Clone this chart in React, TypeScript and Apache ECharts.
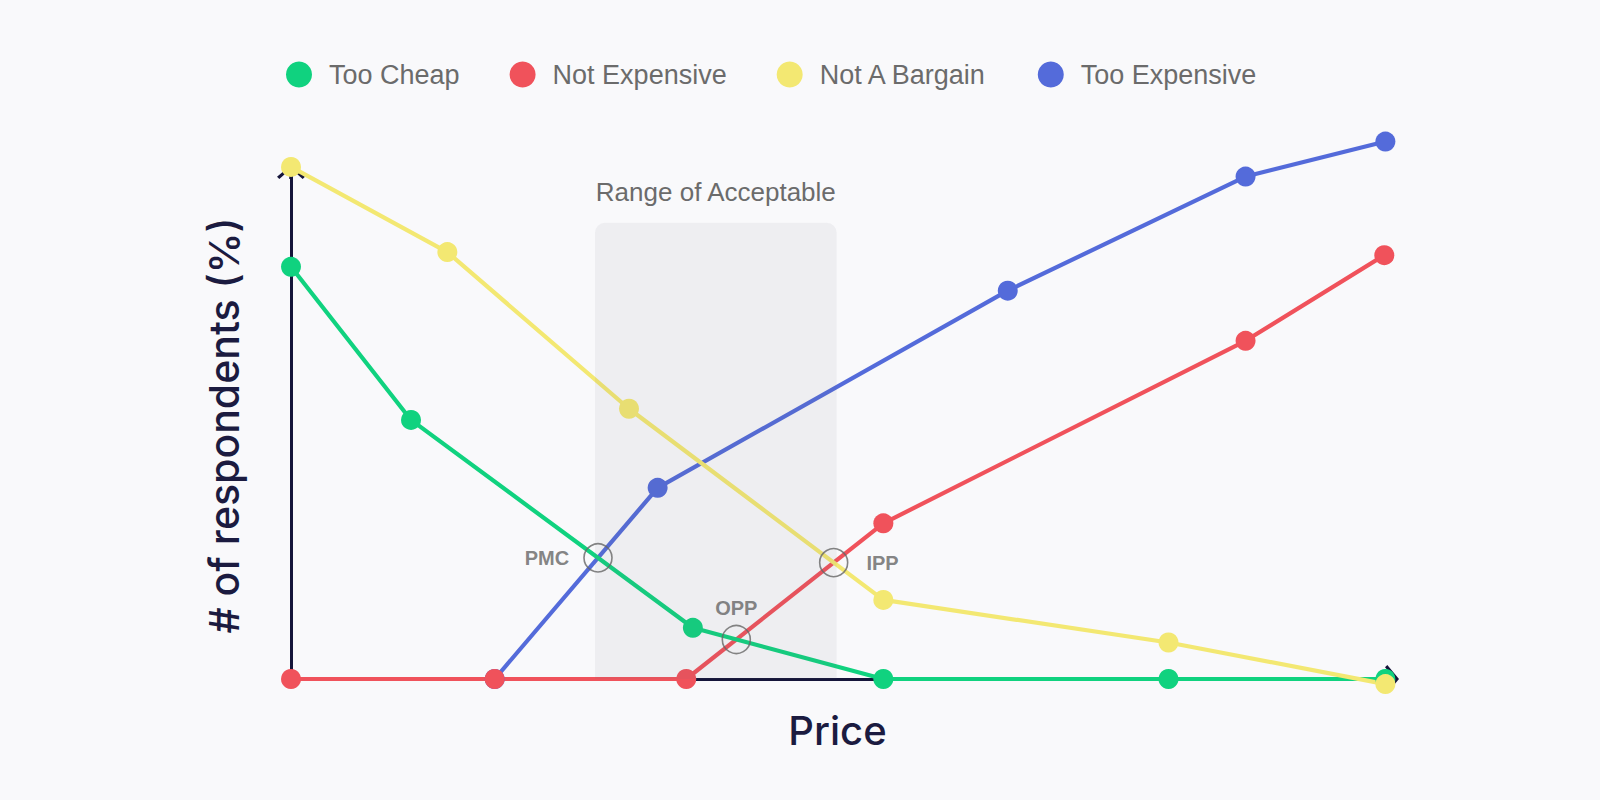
import React, { useEffect, useRef } from "react";
import * as echarts from "echarts";

// ---- data ----
const seriesNames = ["Too Cheap", "Not Expensive", "Not A Bargain", "Too Expensive"];
const seriesColors = ["#10D27F", "#F0525B", "#F3E872", "#546BDA"];

const tooCheapX = [0, 10.9, 36.5, 53.8, 79.7, 99.4];
const tooCheapY = [81.3, 51.1, 10.1, 0, 0, 0];

const notExpensiveX = [0, 18.5, 35.9, 53.8, 86.7, 99.3];
const notExpensiveY = [0, 0, 0, 30.7, 66.7, 83.6];

const notBargainX = [0, 14.2, 30.7, 53.8, 79.7, 99.4];
const notBargainY = [101, 84.2, 53.3, 15.6, 7.2, -1];

const tooExpensiveX = [18.5, 33.3, 65.1, 86.7, 99.4];
const tooExpensiveY = [0, 37.7, 76.6, 99.1, 106];

const pointLabels = ["PMC", "OPP", "IPP"];
const rangeLabel = "Range of Acceptable";
const rangeTop = 90;
const xAxisName = "Price";
const yAxisName = "# of respondents (%)";

const FONT = '"Liberation Sans", Arial, Helvetica, sans-serif';
const NAME_FONT = 'Inter, "Liberation Sans", Arial, sans-serif';
const AXIS_COLOR = "#15153A";
const CHEVRON =
  "path://M0,0 L12,10 L10,12 L1.5,4.5 L1.5,12 L-1.5,12 L-1.5,4.5 L-10,12 L-12,10 Z";

function interp(xs: number[], ys: number[], x: number): number {
  for (let i = 0; i < xs.length - 1; i++) {
    if (x >= xs[i] && x <= xs[i + 1]) {
      const t = (x - xs[i]) / (xs[i + 1] - xs[i]);
      return ys[i] + t * (ys[i + 1] - ys[i]);
    }
  }
  return NaN;
}

// first crossing of two polylines (both linear between union breakpoints)
function intersect(ax: number[], ay: number[], bx: number[], by: number[]): [number, number] {
  const lo = Math.max(ax[0], bx[0]);
  const hi = Math.min(ax[ax.length - 1], bx[bx.length - 1]);
  const xs = Array.from(new Set([...ax, ...bx]))
    .filter((x) => x >= lo && x <= hi)
    .sort((p, q) => p - q);
  for (let i = 0; i < xs.length - 1; i++) {
    const d0 = interp(ax, ay, xs[i]) - interp(bx, by, xs[i]);
    const d1 = interp(ax, ay, xs[i + 1]) - interp(bx, by, xs[i + 1]);
    if (d0 !== 0 && d0 * d1 < 0) {
      const t = d0 / (d0 - d1);
      const x = xs[i] + t * (xs[i + 1] - xs[i]);
      return [x, interp(ax, ay, x)];
    }
  }
  return [NaN, NaN];
}

function zip(xs: number[], ys: number[]) {
  return xs.map((x, i) => [x, ys[i]]);
}

export default function App() {
  const ref = useRef<HTMLDivElement>(null);

  useEffect(() => {
    document.body.style.margin = "0";
    document.body.style.background = "#F9F9FB";
    if (!ref.current) return;
    const chart = echarts.init(ref.current, undefined, { renderer: "svg" });

    const pmc = intersect(tooCheapX, tooCheapY, tooExpensiveX, tooExpensiveY);
    const opp = intersect(tooCheapX, tooCheapY, notExpensiveX, notExpensiveY);
    const ipp = intersect(notBargainX, notBargainY, notExpensiveX, notExpensiveY);

    const lineSeries = (idx: number, xs: number[], ys: number[]) => ({
      type: "line",
      name: seriesNames[idx],
      data: zip(xs, ys),
      symbol: "circle",
      symbolSize: 20,
      showSymbol: true,
      clip: false,
      z: 2,
      lineStyle: { color: seriesColors[idx], width: 4.2 },
      itemStyle: { color: seriesColors[idx], borderWidth: 0 },
      emphasis: { disabled: true },
    });

    const axisLine = {
      show: true,
      symbol: ["none", CHEVRON],
      symbolSize: [28, 14],
      lineStyle: { color: AXIS_COLOR, width: 3 },
    };

    const option: any = {
      animation: false,
      backgroundColor: "#F9F9FB",
      textStyle: { fontFamily: FONT },
      grid: { left: 291, right: 208, top: 172, bottom: 121, containLabel: false },
      legend: {
        data: seriesNames,
        icon: "circle",
        left: 281,
        top: 56,
        itemWidth: 50,
        itemHeight: 26,
        itemGap: 50,
        textStyle: { fontSize: 27, color: "#6B6B6B", fontFamily: FONT },
      },
      xAxis: {
        type: "value",
        min: 0,
        max: 100,
        axisLine,
        axisTick: { show: false },
        axisLabel: { show: false },
        splitLine: { show: false },
        name: xAxisName,
        nameLocation: "middle",
        nameGap: 31,
        nameTextStyle: {
          fontSize: 40,
          color: "#1B1B40",
          fontFamily: NAME_FONT,
          fontWeight: 500,
          padding: [0, 8, 0, 0],
        },
      },
      yAxis: {
        type: "value",
        min: 0,
        max: 100,
        axisLine,
        axisTick: { show: false },
        axisLabel: { show: false },
        splitLine: { show: false },
        name: yAxisName,
        nameLocation: "middle",
        nameGap: 47,
        nameTextStyle: { fontSize: 41, color: "#1B1B40", fontFamily: NAME_FONT, fontWeight: 500 },
      },
      series: [
        lineSeries(3, tooExpensiveX, tooExpensiveY),
        lineSeries(1, notExpensiveX, notExpensiveY),
        lineSeries(0, tooCheapX, tooCheapY),
        lineSeries(2, notBargainX, notBargainY),
        {
          type: "custom",
          name: "range",
          z: 10,
          silent: true,
          clip: false,
          data: [[pmc[0], ipp[0], rangeTop]],
          renderItem: (params: any, api: any) => {
            const a = api.coord([api.value(0), api.value(2)]);
            const b = api.coord([api.value(1), 0]);
            const pad = 3;
            return {
              type: "group",
              children: [
                {
                  type: "rect",
                  shape: {
                    x: a[0] - pad,
                    y: a[1],
                    width: b[0] - a[0] + 2 * pad,
                    height: b[1] - a[1],
                    r: [10, 10, 0, 0],
                  },
                  style: { fill: "rgba(110,110,125,0.075)" },
                },
                {
                  type: "text",
                  x: (a[0] + b[0]) / 2,
                  y: a[1] - 31,
                  style: {
                    text: rangeLabel,
                    fill: "#6B6B6B",
                    fontSize: 26,
                    fontFamily: FONT,
                    align: "center",
                    verticalAlign: "middle",
                  },
                },
              ],
            };
          },
        },
        {
          type: "scatter",
          name: "points",
          z: 12,
          silent: true,
          clip: false,
          symbol: "circle",
          symbolSize: 28,
          itemStyle: { color: "rgba(0,0,0,0)", borderColor: "#666666", borderWidth: 1.6 },
          label: {
            show: true,
            formatter: "{b}",
            fontSize: 20,
            fontWeight: "bold",
            color: "#656565",
            fontFamily: FONT,
          },
          data: [
            { name: pointLabels[0], value: pmc, label: { position: "left", distance: 14 } },
            { name: pointLabels[1], value: opp, label: { position: "top", distance: 7 } },
            { name: pointLabels[2], value: ipp, label: { position: "right", distance: 18 } },
          ],
        },
      ],
    };

    chart.setOption(option);
    return () => chart.dispose();
  }, []);

  return <div ref={ref} style={{ width: 1600, height: 800 }} />;
}
